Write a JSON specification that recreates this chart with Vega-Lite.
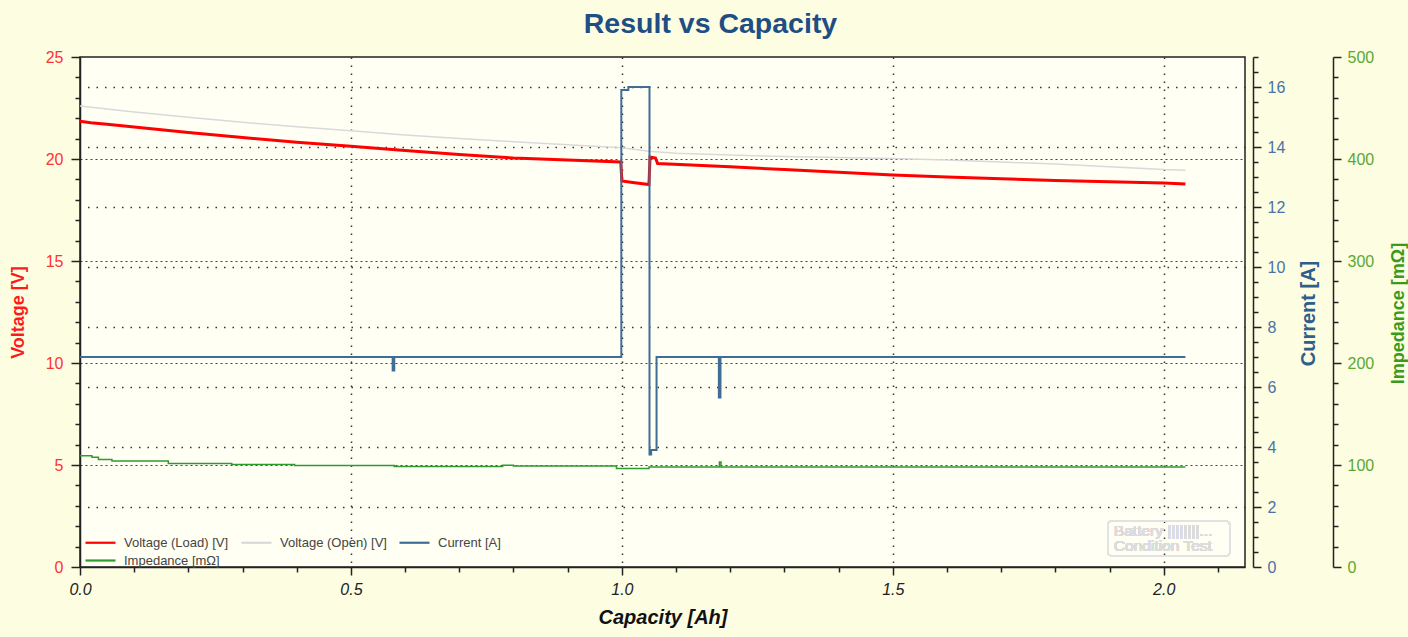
{
  "$schema": "https://vega.github.io/schema/vega-lite/v6.json",
  "width": 1165,
  "height": 510,
  "autosize": {"type": "none"},
  "padding": {"left": 80, "top": 57, "right": 163, "bottom": 70},
  "background": "#fdfde2",
  "config": {
    "font": "Liberation Sans",
    "view": {"fill": "#fffff4", "stroke": "#222222", "strokeWidth": 1.5},
    "axis": {"domainColor": "#222222", "domainWidth": 1.5, "tickColor": "#222222", "tickWidth": 1.5, "labelFontSize": 16, "titleFontSize": 18, "titleFontWeight": "bold", "labelOverlap": false, "labelFlush": false}
  },
  "title": {"text": "Result vs Capacity", "fontSize": 28.5, "fontWeight": "bold", "color": "#1f4e84", "offset": 11, "dx": 48, "anchor": "middle"},
  "data": {"values": [
    {"s": "Voltage (Load) [V]", "x": 0, "y": 21.85},
    {"s": "Voltage (Load) [V]", "x": 0.02, "y": 21.78},
    {"s": "Voltage (Load) [V]", "x": 0.05, "y": 21.7},
    {"s": "Voltage (Load) [V]", "x": 0.1, "y": 21.57},
    {"s": "Voltage (Load) [V]", "x": 0.2, "y": 21.3},
    {"s": "Voltage (Load) [V]", "x": 0.3, "y": 21.05},
    {"s": "Voltage (Load) [V]", "x": 0.4, "y": 20.82},
    {"s": "Voltage (Load) [V]", "x": 0.5, "y": 20.63},
    {"s": "Voltage (Load) [V]", "x": 0.6, "y": 20.42},
    {"s": "Voltage (Load) [V]", "x": 0.7, "y": 20.22},
    {"s": "Voltage (Load) [V]", "x": 0.8, "y": 20.05},
    {"s": "Voltage (Load) [V]", "x": 0.9, "y": 19.95},
    {"s": "Voltage (Load) [V]", "x": 0.998, "y": 19.85},
    {"s": "Voltage (Load) [V]", "x": 1.0, "y": 18.92},
    {"s": "Voltage (Load) [V]", "x": 1.02, "y": 18.85},
    {"s": "Voltage (Load) [V]", "x": 1.05, "y": 18.75},
    {"s": "Voltage (Load) [V]", "x": 1.052, "y": 20.1},
    {"s": "Voltage (Load) [V]", "x": 1.062, "y": 20.05},
    {"s": "Voltage (Load) [V]", "x": 1.066, "y": 19.78},
    {"s": "Voltage (Load) [V]", "x": 1.2, "y": 19.62},
    {"s": "Voltage (Load) [V]", "x": 1.3, "y": 19.48},
    {"s": "Voltage (Load) [V]", "x": 1.4, "y": 19.35},
    {"s": "Voltage (Load) [V]", "x": 1.5, "y": 19.22},
    {"s": "Voltage (Load) [V]", "x": 1.6, "y": 19.12},
    {"s": "Voltage (Load) [V]", "x": 1.7, "y": 19.03},
    {"s": "Voltage (Load) [V]", "x": 1.8, "y": 18.95},
    {"s": "Voltage (Load) [V]", "x": 1.9, "y": 18.88},
    {"s": "Voltage (Load) [V]", "x": 2.0, "y": 18.82},
    {"s": "Voltage (Load) [V]", "x": 2.04, "y": 18.78},
    {"s": "Voltage (Open) [V]", "x": 0, "y": 22.6},
    {"s": "Voltage (Open) [V]", "x": 0.1, "y": 22.3},
    {"s": "Voltage (Open) [V]", "x": 0.2, "y": 22.05},
    {"s": "Voltage (Open) [V]", "x": 0.3, "y": 21.8},
    {"s": "Voltage (Open) [V]", "x": 0.4, "y": 21.58},
    {"s": "Voltage (Open) [V]", "x": 0.5, "y": 21.38},
    {"s": "Voltage (Open) [V]", "x": 0.6, "y": 21.18},
    {"s": "Voltage (Open) [V]", "x": 0.7, "y": 21.0},
    {"s": "Voltage (Open) [V]", "x": 0.8, "y": 20.85},
    {"s": "Voltage (Open) [V]", "x": 0.9, "y": 20.7},
    {"s": "Voltage (Open) [V]", "x": 1.0, "y": 20.55},
    {"s": "Voltage (Open) [V]", "x": 1.05, "y": 20.38},
    {"s": "Voltage (Open) [V]", "x": 1.1, "y": 20.28},
    {"s": "Voltage (Open) [V]", "x": 1.2, "y": 20.2},
    {"s": "Voltage (Open) [V]", "x": 1.3, "y": 20.12},
    {"s": "Voltage (Open) [V]", "x": 1.4, "y": 20.07},
    {"s": "Voltage (Open) [V]", "x": 1.5, "y": 20.02},
    {"s": "Voltage (Open) [V]", "x": 1.6, "y": 19.95},
    {"s": "Voltage (Open) [V]", "x": 1.7, "y": 19.85},
    {"s": "Voltage (Open) [V]", "x": 1.8, "y": 19.75},
    {"s": "Voltage (Open) [V]", "x": 1.9, "y": 19.62},
    {"s": "Voltage (Open) [V]", "x": 2.0, "y": 19.48},
    {"s": "Voltage (Open) [V]", "x": 2.04, "y": 19.45},
    {"s": "Current [A]", "x": 0, "y": 7.0},
    {"s": "Current [A]", "x": 0.577, "y": 6.55},
    {"s": "Current [A]", "x": 0.58, "y": 7.0},
    {"s": "Current [A]", "x": 0.999, "y": 15.9},
    {"s": "Current [A]", "x": 1.012, "y": 16.0},
    {"s": "Current [A]", "x": 1.051, "y": 3.75},
    {"s": "Current [A]", "x": 1.054, "y": 3.9},
    {"s": "Current [A]", "x": 1.064, "y": 7.0},
    {"s": "Current [A]", "x": 1.179, "y": 5.65},
    {"s": "Current [A]", "x": 1.182, "y": 7.0},
    {"s": "Current [A]", "x": 2.04, "y": 7.0},
    {"s": "Impedance [mΩ]", "x": 0, "y": 109},
    {"s": "Impedance [mΩ]", "x": 0.022, "y": 107.5},
    {"s": "Impedance [mΩ]", "x": 0.034, "y": 105.5},
    {"s": "Impedance [mΩ]", "x": 0.059, "y": 104},
    {"s": "Impedance [mΩ]", "x": 0.163, "y": 101.5},
    {"s": "Impedance [mΩ]", "x": 0.28, "y": 100.5},
    {"s": "Impedance [mΩ]", "x": 0.396, "y": 99.6},
    {"s": "Impedance [mΩ]", "x": 0.58, "y": 98.5},
    {"s": "Impedance [mΩ]", "x": 0.78, "y": 99.8},
    {"s": "Impedance [mΩ]", "x": 0.8, "y": 99},
    {"s": "Impedance [mΩ]", "x": 0.99, "y": 96.5},
    {"s": "Impedance [mΩ]", "x": 1.05, "y": 98},
    {"s": "Impedance [mΩ]", "x": 1.18, "y": 103},
    {"s": "Impedance [mΩ]", "x": 1.183, "y": 98},
    {"s": "Impedance [mΩ]", "x": 2.04, "y": 98}
  ]},
  "encoding": {
    "x": {
      "field": "x", "type": "quantitative",
      "scale": {"domain": [0, 2.15], "nice": false, "zero": false},
      "axis": {
        "title": "Capacity [Ah]", "titleFontSize": 20, "titleFontStyle": "italic", "titleColor": "#111111", "titlePadding": 10,
        "values": [0, 0.1, 0.2, 0.3, 0.4, 0.5, 0.6, 0.7, 0.8, 0.9, 1.0, 1.1, 1.2, 1.3, 1.4, 1.5, 1.6, 1.7, 1.8, 1.9, 2.0, 2.1],
        "labelExpr": "abs(datum.value*2 - round(datum.value*2)) < 0.000001 ? format(datum.value, '.1f') : ''",
        "labelFontStyle": "italic", "labelColor": "#222222", "labelPadding": 6,
        "tickSize": {"condition": {"test": "abs(datum.value*2 - round(datum.value*2)) < 0.000001", "value": 8}, "value": 5},
        "grid": true, "gridColor": "#333333", "gridDash": [1.5, 6.5], "gridWidth": 1.5,
        "gridOpacity": {"condition": {"test": "abs(datum.value*2 - round(datum.value*2)) < 0.000001 && datum.value > 0", "value": 1}, "value": 0}
      }
    },
    "color": {
      "field": "s", "type": "nominal",
      "scale": {"domain": ["Voltage (Load) [V]", "Voltage (Open) [V]", "Current [A]", "Impedance [mΩ]"], "range": ["#ff0000", "#d9d9d9", "#3f6d96", "#2e9b2e"]},
      "legend": {
        "title": null, "orient": "none", "legendX": 14, "legendY": 479, "columns": 3, "direction": "horizontal",
        "symbolType": "M-3,0H3", "symbolSize": 100, "symbolStrokeWidth": 2.2, "labelFontSize": 13, "labelColor": "#444444",
        "labelOffset": 17, "columnPadding": 8, "rowPadding": 4, "padding": 0
      }
    }
  },
  "layer": [
    {
      "transform": [{"filter": "datum.s === 'Voltage (Open) [V]'"}],
      "mark": {"type": "line", "strokeWidth": 1.5},
      "encoding": {
        "y": {"field": "y", "type": "quantitative", "scale": {"domain": [0, 25], "nice": false}, "axis": null}
      }
    },
    {
      "transform": [{"filter": "datum.s === 'Voltage (Load) [V]'"}],
      "mark": {"type": "line", "strokeWidth": 3},
      "encoding": {
        "y": {
          "field": "y", "type": "quantitative", "scale": {"domain": [0, 25], "nice": false},
          "axis": {
            "orient": "left", "title": "Voltage [V]", "titleColor": "#ff1a1a", "titlePadding": 18,
            "values": [0, 1, 2, 3, 4, 5, 6, 7, 8, 9, 10, 11, 12, 13, 14, 15, 16, 17, 18, 19, 20, 21, 22, 23, 24, 25],
            "labelExpr": "datum.value % 5 === 0 ? datum.label : ''",
            "labelColor": "#ff3333", "labelPadding": 8,
            "tickSize": {"condition": {"test": "datum.value % 5 === 0", "value": 9}, "value": 5},
            "grid": true, "gridColor": "#444444", "gridDash": [2, 3], "gridWidth": 1.2,
            "gridOpacity": {"condition": {"test": "datum.value % 5 === 0 && datum.value > 0 && datum.value < 25", "value": 1}, "value": 0}
          }
        }
      }
    },
    {
      "transform": [{"filter": "datum.s === 'Current [A]'"}],
      "mark": {"type": "line", "strokeWidth": 2, "interpolate": "step-after"},
      "encoding": {
        "y": {
          "field": "y", "type": "quantitative", "scale": {"domain": [0, 17], "nice": false},
          "axis": {
            "orient": "right", "offset": 8, "title": "Current [A]", "titleColor": "#2d5e8c", "titleFontSize": 20,
            "titleAngle": 270, "titleBaseline": "top", "titleAlign": "center", "titleX": 45, "titleY": 256,
            "values": [0, 0.5, 1, 1.5, 2, 2.5, 3, 3.5, 4, 4.5, 5, 5.5, 6, 6.5, 7, 7.5, 8, 8.5, 9, 9.5, 10, 10.5, 11, 11.5, 12, 12.5, 13, 13.5, 14, 14.5, 15, 15.5, 16, 16.5, 17],
            "labelExpr": "datum.value % 2 === 0 ? format(datum.value, 'd') : ''",
            "labelColor": "#4a72a8", "labelPadding": 6,
            "tickSize": {"condition": {"test": "datum.value % 2 === 0", "value": 8}, "value": 5},
            "grid": true, "gridColor": "#333333", "gridDash": [1.5, 7], "gridWidth": 1.5,
            "gridOpacity": {"condition": {"test": "datum.value % 2 === 0 && datum.value > 0", "value": 1}, "value": 0}
          }
        }
      }
    },
    {
      "transform": [{"filter": "datum.s === 'Impedance [mΩ]'"}],
      "mark": {"type": "line", "strokeWidth": 1.5, "interpolate": "step-after"},
      "encoding": {
        "y": {
          "field": "y", "type": "quantitative", "scale": {"domain": [0, 500], "nice": false},
          "axis": {
            "orient": "right", "offset": 88, "title": "Impedance [mΩ]", "titleColor": "#3a9a1a", "titleFontSize": 18,
            "titleAngle": 270, "titleBaseline": "top", "titleAlign": "center", "titleX": 56, "titleY": 256,
            "values": [0, 20, 40, 60, 80, 100, 120, 140, 160, 180, 200, 220, 240, 260, 280, 300, 320, 340, 360, 380, 400, 420, 440, 460, 480, 500],
            "labelExpr": "datum.value % 100 === 0 ? datum.label : ''",
            "labelColor": "#5aa832", "labelPadding": 6,
            "tickSize": {"condition": {"test": "datum.value % 100 === 0", "value": 8}, "value": 5},
            "grid": false
          }
        }
      }
    },
    {
      "mark": {"type": "rect", "filled": false, "stroke": "#e2e2e2", "strokeWidth": 1.5, "cornerRadius": 4},
      "encoding": {
        "x": {"datum": 1.897},
        "x2": {"datum": 2.122},
        "y": {"datum": 2.25, "scale": {"domain": [0, 25], "nice": false}, "axis": null},
        "y2": {"datum": 0.54},
        "color": {"value": "#e2e2e2"}
      }
    },
    {
      "mark": {"type": "text", "align": "left", "baseline": "top", "fontSize": 15.5, "lineHeight": 15},
      "encoding": {
        "x": {"datum": 1.908},
        "y": {"datum": 2.12, "scale": {"domain": [0, 25], "nice": false}, "axis": null},
        "text": {"value": ["Battery ||||||||...", "Condition Test"]},
        "color": {"value": "#dcdcdc"}
      }
    }
  ],
  "resolve": {"scale": {"y": "independent"}, "axis": {"y": "independent"}}
}
